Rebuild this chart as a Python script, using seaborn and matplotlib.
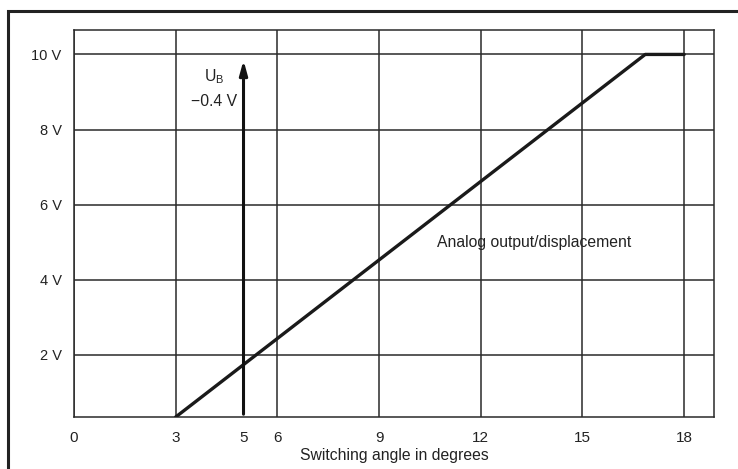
import numpy as np
import pandas as pd
import matplotlib
matplotlib.use("Agg")
import matplotlib.pyplot as plt
from matplotlib.patches import Rectangle
import seaborn as sns

# values
angle = [3, 16.85, 18]
voltage = [0.35, 10, 10]
x_ticks = [0, 3, 6, 9, 12, 15, 18]
y_ticks = [2, 4, 6, 8, 10]
y_labels = ["2 V", "4 V", "6 V", "8 V", "10 V"]
ub_angle = 5

sns.set_style("white")
plt.rcParams["font.family"] = ["Liberation Sans", "DejaVu Sans"]
plt.rcParams["font.size"] = 10.5

fig = plt.figure(figsize=(7.38, 4.69), dpi=100)
ax = fig.add_axes([0.1003, 0.1109, 0.8672, 0.8251])

data = pd.DataFrame({"angle": angle, "voltage": voltage})
sns.lineplot(data=data, x="angle", y="voltage", ax=ax, color="#1a1a1a", linewidth=2.4, zorder=4)

ax.set_xlim(0, 18.88)
ax.set_ylim(0.35, 10.65)
ax.set_xticks(x_ticks)
ax.set_xticks([ub_angle], minor=True)
ax.set_xticklabels([str(t) for t in x_ticks])
ax.set_xticklabels([str(ub_angle)], minor=True)
ax.set_yticks(y_ticks)
ax.set_yticklabels(y_labels)
ax.tick_params(axis="x", which="major", length=6, width=1.1, color="#2a2a2a", pad=4, labelcolor="#222222", labelsize=11)
ax.tick_params(axis="x", which="minor", length=0, pad=10, labelcolor="#222222", labelsize=11)
ax.tick_params(axis="y", length=4, width=1.1, color="#2a2a2a", pad=5, labelcolor="#222222")
ax.grid(True, which="major", color="#2a2a2a", linewidth=1.1)
ax.set_axisbelow(True)
for s in ax.spines.values():
    s.set_color("#2a2a2a")
    s.set_linewidth(1.1)

ax.set_xlabel("Switching angle in degrees", color="#222222", fontsize=11.3, labelpad=2)
ax.set_ylabel("")

ax.annotate("", xy=(ub_angle, 9.92), xytext=(ub_angle, 0.35),
            arrowprops=dict(arrowstyle="-|>,head_length=0.8,head_width=0.22", color="#111111", lw=2.2),
            zorder=5)
ax.text(4.13, 9.42, "U$_\\mathregular{B}$", ha="center", va="center", color="#222222", fontsize=11.3)
ax.text(4.13, 8.76, "\u22120.4 V", ha="center", va="center", color="#222222", fontsize=11.3)
ax.text(13.58, 5.0, "Analog output/displacement", ha="center", va="center", color="#222222", fontsize=11.3)

fig.patches.append(Rectangle((8 / 738, -0.05), 1.2, 1 - 11 / 469 + 0.05, transform=fig.transFigure,
                             fill=False, edgecolor="#222222", linewidth=2.2))

fig.savefig("out.png", dpi=100)
